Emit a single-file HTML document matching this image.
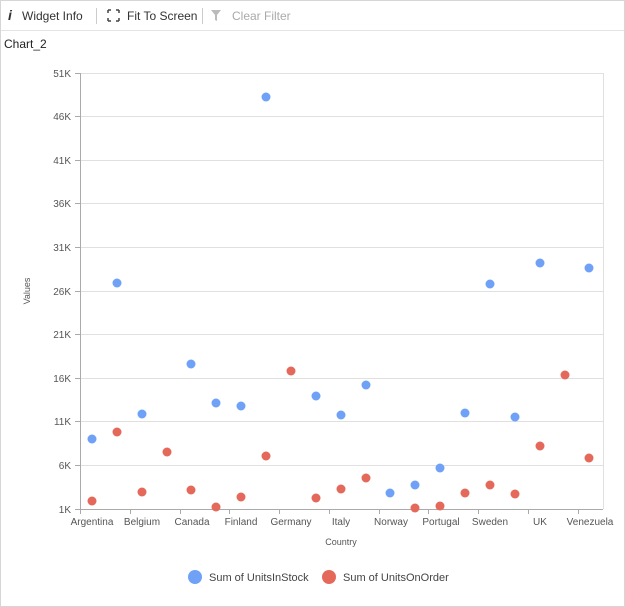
<!DOCTYPE html>
<html><head><meta charset="utf-8"><style>
body{margin:0;width:625px;height:607px;background:#fff;font-family:"Liberation Sans",sans-serif;overflow:hidden}
.frame{position:absolute;left:0;top:0;width:623px;height:605px;border:1px solid #d6d6d6}
</style></head><body>
<div class="frame"></div>
<svg width="625" height="607" style="position:absolute;left:0;top:0" font-family="Liberation Sans, sans-serif">
<line x1="1" y1="30.5" x2="624" y2="30.5" stroke="#e3e3e3"/>
<text x="8" y="20" font-size="14" font-weight="bold" font-style="italic" fill="#333">i</text>
<text x="22" y="20" font-size="12" fill="#333">Widget Info</text>
<line x1="96.5" y1="8" x2="96.5" y2="24" stroke="#ccc"/>
<g stroke="#444" stroke-width="1.5" fill="none"><path d="M108 10h3M108 10v3M119 10h-3M119 10v3M108 21h3M108 21v-3M119 21h-3M119 21v-3"/></g>
<text x="127" y="20" font-size="12" fill="#333">Fit To Screen</text>
<line x1="202.5" y1="8" x2="202.5" y2="24" stroke="#ccc"/>
<path d="M211 10h10l-4 5v6l-2-1v-5z" fill="#bbb"/>
<text x="232" y="20" font-size="12" fill="#aaa">Clear Filter</text>
<text x="4" y="48" font-size="12" fill="#222">Chart_2</text>
<g stroke="#e0e0e0" stroke-width="1">
<line x1="80" x2="603" y1="73.5" y2="73.5"/><line x1="80" x2="603" y1="116.5" y2="116.5"/><line x1="80" x2="603" y1="160.5" y2="160.5"/><line x1="80" x2="603" y1="203.5" y2="203.5"/><line x1="80" x2="603" y1="247.5" y2="247.5"/><line x1="80" x2="603" y1="291.5" y2="291.5"/><line x1="80" x2="603" y1="334.5" y2="334.5"/><line x1="80" x2="603" y1="378.5" y2="378.5"/><line x1="80" x2="603" y1="421.5" y2="421.5"/><line x1="80" x2="603" y1="465.5" y2="465.5"/>
<line x1="603.5" x2="603.5" y1="73" y2="509"/>
</g>
<g stroke="#aaa"><line x1="80.5" x2="80.5" y1="73" y2="509"/><line x1="80" x2="603" y1="509.5" y2="509.5"/>
<path d="M75 73.5h5M75 116.5h5M75 160.5h5M75 203.5h5M75 247.5h5M75 291.5h5M75 334.5h5M75 378.5h5M75 421.5h5M75 465.5h5M75 509.5h5"/>
<path d="M80.5 509v5M130.5 509v5M180.5 509v5M229.5 509v5M279.5 509v5M329.5 509v5M379.5 509v5M428.5 509v5M478.5 509v5M528.5 509v5M578.5 509v5"/></g>
<g font-size="10" fill="#555" text-anchor="end">
<text x="71" y="77">51K</text><text x="71" y="120">46K</text><text x="71" y="164">41K</text><text x="71" y="207">36K</text><text x="71" y="251">31K</text><text x="71" y="295">26K</text><text x="71" y="338">21K</text><text x="71" y="382">16K</text><text x="71" y="425">11K</text><text x="71" y="469">6K</text><text x="71" y="513">1K</text>
</g>
<g font-size="10" fill="#555" text-anchor="middle">
<text x="92" y="525">Argentina</text><text x="142" y="525">Belgium</text><text x="192" y="525">Canada</text><text x="241" y="525">Finland</text><text x="291" y="525">Germany</text><text x="341" y="525">Italy</text><text x="391" y="525">Norway</text><text x="441" y="525">Portugal</text><text x="490" y="525">Sweden</text><text x="540" y="525">UK</text><text x="590" y="525">Venezuela</text>
<text x="341" y="545" font-size="9">Country</text>
<text x="0" y="0" font-size="9" transform="translate(30,291) rotate(-90)">Values</text>
</g>
<g fill="#6fa1f7">
<circle cx="92" cy="439" r="4.5"/><circle cx="117" cy="283" r="4.5"/><circle cx="142" cy="414" r="4.5"/><circle cx="191" cy="364" r="4.5"/><circle cx="216" cy="403" r="4.5"/><circle cx="241" cy="406" r="4.5"/><circle cx="266" cy="97" r="4.5"/><circle cx="316" cy="396" r="4.5"/><circle cx="341" cy="415" r="4.5"/><circle cx="366" cy="385" r="4.5"/><circle cx="390" cy="493" r="4.5"/><circle cx="415" cy="485" r="4.5"/><circle cx="440" cy="468" r="4.5"/><circle cx="465" cy="413" r="4.5"/><circle cx="490" cy="284" r="4.5"/><circle cx="515" cy="417" r="4.5"/><circle cx="540" cy="263" r="4.5"/><circle cx="589" cy="268" r="4.5"/>
</g>
<g fill="#e5695b">
<circle cx="92" cy="501" r="4.5"/><circle cx="117" cy="432" r="4.5"/><circle cx="142" cy="492" r="4.5"/><circle cx="167" cy="452" r="4.5"/><circle cx="191" cy="490" r="4.5"/><circle cx="216" cy="507" r="4.5"/><circle cx="241" cy="497" r="4.5"/><circle cx="266" cy="456" r="4.5"/><circle cx="291" cy="371" r="4.5"/><circle cx="316" cy="498" r="4.5"/><circle cx="341" cy="489" r="4.5"/><circle cx="366" cy="478" r="4.5"/><circle cx="415" cy="508" r="4.5"/><circle cx="440" cy="506" r="4.5"/><circle cx="465" cy="493" r="4.5"/><circle cx="490" cy="485" r="4.5"/><circle cx="515" cy="494" r="4.5"/><circle cx="540" cy="446" r="4.5"/><circle cx="565" cy="375" r="4.5"/><circle cx="589" cy="458" r="4.5"/>
</g>
<circle cx="195" cy="577" r="7" fill="#6fa1f7"/>
<text x="209" y="581" font-size="11" fill="#444">Sum of UnitsInStock</text>
<circle cx="329" cy="577" r="7" fill="#e5695b"/>
<text x="343" y="581" font-size="11" fill="#444">Sum of UnitsOnOrder</text>
</svg>
</body></html>
